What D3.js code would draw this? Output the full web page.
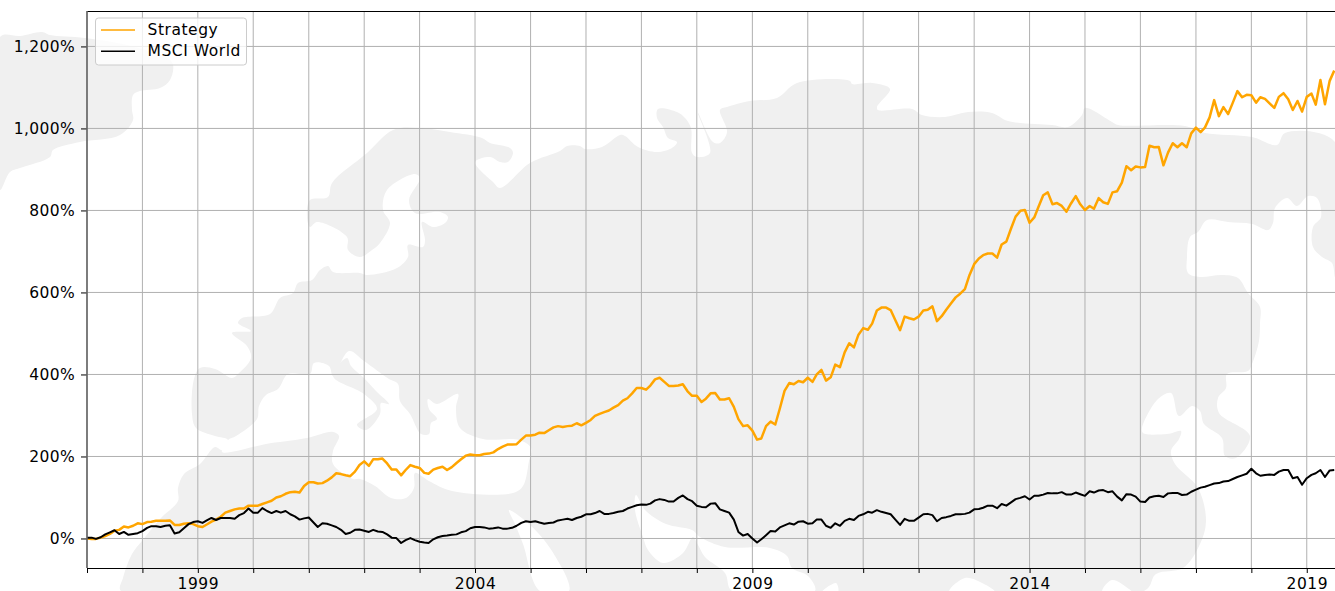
<!DOCTYPE html>
<html>
<head>
<meta charset="utf-8">
<script src="https://cdn.jsdelivr.net/npm/d3@7"></script>
<style>
    html, body { margin: 0; padding: 0; background: #fff; }
    svg { display: block; }
    text { font-family: "DejaVu Sans", sans-serif; fill: #000; }
</style>
</head>
<body>
<div id="chart"></div>
<script>
// Cumulative return in %, one value per month, starting January 1997
const strategy = [
    0, -1, -1, 2, 6, 11, 19, 21, 29, 27, 31, 37,
    35, 40, 41, 43, 43, 43, 44, 33, 33, 36, 37, 35,
    30, 28, 34, 41, 46, 53, 63, 67, 71, 73, 73, 80,
    80, 80, 84, 88, 92, 100, 103, 109, 113, 114, 112, 128,
    137, 137, 134, 135, 141, 149, 159, 157, 154, 152, 163, 179,
    188, 177, 193, 193, 195, 183, 168, 168, 154, 167, 179, 175,
    172, 160, 158, 168, 172, 175, 167, 174, 184, 193, 202, 205,
    203, 203, 206, 207, 210, 218, 224, 229, 229, 230, 241, 251,
    251, 253, 258, 257, 264, 271, 274, 272, 274, 275, 281, 276,
    282, 289, 299, 304, 308, 312, 319, 325, 336, 342, 354, 367,
    367, 363, 373, 388, 392, 382, 372, 372, 373, 376, 359, 348,
    348, 333, 341, 354, 355, 339, 339, 342, 321, 291, 274, 276,
    263, 241, 244, 274, 285, 278, 317, 360, 379, 376, 384, 381,
    392, 382, 400, 411, 385, 393, 424, 418, 454, 476, 466, 497,
    513, 509, 524, 556, 563, 563, 557, 532, 508, 541, 537, 534,
    541, 556, 558, 566, 530, 542, 558, 573, 588, 597, 608, 642,
    669, 683, 691, 695, 695, 685, 717, 724, 756, 785, 799, 801,
    770, 783, 809, 837, 844, 815, 818, 811, 797, 817, 835, 815,
    801, 811, 804, 830, 820, 816, 844, 847, 868, 908, 898, 907,
    905, 906, 958, 954, 955, 910, 941, 964, 954, 964, 954, 988,
    1002, 991, 1002, 1027, 1069, 1030, 1052, 1035, 1063, 1091, 1076, 1082,
    1081, 1063, 1076, 1072, 1061, 1050, 1077, 1086, 1071, 1045, 1067, 1041,
    1077, 1085, 1058, 1118, 1059, 1116, 1141
];

const msciWorld = [
    2, 2, -1, 3, 10, 15, 20, 11, 16, 9, 11, 13,
    18, 26, 30, 30, 28, 31, 32, 12, 15, 25, 35, 40,
    42, 38, 44, 50, 45, 50, 50, 50, 48, 57, 62, 73,
    63, 63, 74, 67, 62, 67, 63, 67, 59, 54, 46, 49,
    51, 39, 28, 37, 36, 32, 28, 21, 11, 14, 21, 22,
    19, 16, 21, 17, 16, 10, 2, 1, -11, -4, 1, -4,
    -8, -10, -11, -2, 3, 6, 7, 9, 10, 15, 18, 25,
    28, 28, 27, 24, 25, 27, 24, 24, 26, 31, 38, 42,
    40, 42, 39, 36, 38, 39, 44, 46, 48, 45, 50, 53,
    59, 59, 62, 67, 60, 60, 62, 65, 67, 73, 77, 81,
    83, 82, 85, 93, 96, 94, 90, 90, 99, 105, 96, 91,
    80, 77, 76, 85, 86, 71, 67, 63, 46, 16, 7, 11,
    0, -10, -2, 8, 18, 17, 27, 32, 37, 34, 41, 42,
    36, 37, 46, 46, 31, 26, 37, 31, 43, 48, 45, 55,
    59, 65, 63, 69, 65, 62, 59, 46, 33, 48, 43, 43,
    51, 59, 60, 57, 42, 50, 52, 55, 59, 59, 60, 63,
    71, 72, 75, 80, 80, 74, 84, 80, 88, 96, 99, 103,
    95, 104, 104, 107, 111, 110, 110, 113, 107, 107, 112, 108,
    104, 115, 112, 117, 118, 113, 115, 102, 93, 108, 107, 102,
    90, 89, 100, 103, 104, 101, 110, 111, 111, 106, 107, 114,
    119, 124, 126, 130, 134, 135, 139, 140, 145, 150, 154, 158,
    170, 159, 153, 155, 156, 155, 163, 167, 167, 147, 150, 131,
    147, 155, 159, 167, 150, 166, 167
];

const seriesNames = ["Strategy", "MSCI World"];
const seriesColors = ["#ffa500", "#000000"];
const yTicks = [0, 200, 400, 600, 800, 1000, 1200];
const gridYears = d3.range(1997, 2020);
const labelYears = [1999, 2004, 2009, 2014, 2019];

// Background world map watermark, traced in page pixels
const greenland = [[0,37],[20,36],[42,32],[50,35],[85,38],[135,47],[172,62],[170,80],[160,88],[140,91],[133,95],[132,110],[133,120],[120,135],[80,142],[53,150],[50,157],[20,168],[10,172],[0,190]];
const land = [
    [121,591],[123,578],[132,554],[142,541],[161,518],[178,501],[178,488],[184,474],[200,464],[215,447],[222,450],
    [228,440],[215,436],[196,428],[192,414],[194,379],[200,368],[215,369],[232,378],[238,374],[251,358],[247,346],[232,333],[251,331],[238,323],[242,318],[270,314],[280,298],[293,293],
    [298,283],[312,280],[320,270],[328,266],[333,272],[360,273],[367,275],[397,268],[408,257],[408,245],[423,247],[425,240],[422,222],[433,227],[445,223],[448,217],[440,212],[415,213],[409,200],[420,178],[415,174],[387,190],[383,210],[390,223],[380,243],[372,250],[360,257],[348,250],[347,237],[317,222],[310,227],[307,217],[310,200],[328,197],[332,183],[367,153],[393,130],[420,128],
    [450,132],[482,138],[490,143],[510,148],[513,153],[508,162],[500,162],[490,157],[475,162],[493,182],[500,188],[530,163],[560,151],[567,146],[580,146],[585,149],[602,147],[620,135],[625,136],[638,147],[657,152],[672,148],[677,142],[668,138],[663,127],[657,118],[658,109],[677,112],[685,118],[691,128],[692,153],[697,157],[710,153],[698,113],[713,142],[720,143],[727,132],[720,110],[727,107],[750,101],[777,98],[797,83],[850,81],[852,84],[872,83],[890,89],[877,107],[878,110],[912,109],[922,115],[945,117],[968,112],[992,113],[1008,121],[1052,125],[1068,127],[1082,115],[1085,108],[1112,122],[1118,125],[1185,126],[1205,133],[1252,137],[1277,145],[1285,133],[1335,142],
    [1335,277],[1332,263],[1322,257],[1313,247],[1313,227],[1321,217],[1317,198],[1308,196],[1297,206],[1287,198],[1275,208],[1273,223],[1268,230],[1252,224],[1228,222],[1207,220],[1198,232],[1190,237],[1187,257],[1188,273],[1200,277],[1222,275],[1238,278],[1248,293],[1260,307],[1260,323],[1259,341],[1252,364],[1248,371],[1227,374],[1226,388],[1218,398],[1219,413],[1250,436],[1236,458],[1225,456],[1222,438],[1204,424],[1200,411],[1192,406],[1179,416],[1171,393],[1158,399],[1142,428],[1143,433],[1167,434],[1181,431],[1179,439],[1171,451],[1175,464],[1198,488],[1206,521],[1200,544],[1183,568],[1156,574],[1144,591]
];
const seas = [
    // Mediterranean and Black Sea
    [[222,452],[228,440],[236,436],[257,419],[259,406],[266,395],[278,389],[288,374],[310,374],[314,363],[329,366],[333,376],[349,351],[364,361],[389,379],[398,384],[400,401],[410,414],[421,434],[429,434],[431,423],[437,419],[429,409],[428,399],[437,404],[458,394],[456,408],[460,428],[483,439],[519,440],[531,448],[529,461],[523,486],[513,493],[452,491],[429,481],[415,473],[414,488],[406,498],[391,498],[375,486],[360,479],[353,479],[333,464],[333,451],[339,436],[333,432],[307,438],[266,444],[253,447]],
    // Red Sea
    [[509,510],[529,524],[552,551],[569,591],[540,591],[523,544],[515,524]],
    // Gulf and Arabian Sea
    [[636,495],[645,510],[666,524],[692,530],[700,537],[725,547],[770,548],[787,556],[792,568],[808,576],[815,591],[732,591],[725,573],[705,557],[698,545],[693,537],[683,553],[663,563],[648,550],[643,537],[635,510]],
    [[822,592],[836,583],[838,592]],
    [[949,592],[965,578],[984,584],[995,592]],
    [[1102,592],[1112,580],[1129,589],[1132,592]]
];
const italy = [[333,376],[347,358],[351,366],[364,378],[376,391],[389,404],[381,403],[380,414],[366,430],[357,425],[377,409],[364,394]];

const width = 1335, height = 591;
const margin = { top: 11, right: 0, bottom: 23, left: 87 };

const dates = strategy.map((d, i) => d3.utcMonth.offset(new Date(Date.UTC(1997, 0, 1)), i));

const x = d3.scaleUtc()
    .domain([new Date(Date.UTC(1997, 0, 1)), new Date(Date.UTC(2019, 6, 6))])
    .range([margin.left, width - margin.right]);

const y = d3.scaleLinear()
    .domain([-72, 1286.4])
    .range([height - margin.bottom, margin.top]);

const svg = d3.select("#chart").append("svg")
    .attr("width", width)
    .attr("height", height);

svg.append("defs").append("clipPath")
    .attr("id", "plot-clip")
    .append("rect")
    .attr("x", margin.left)
    .attr("y", margin.top)
    .attr("width", width - margin.left - margin.right)
    .attr("height", height - margin.top - margin.bottom);

// Watermark
const blob = d3.line().curve(d3.curveCatmullRomClosed.alpha(0.5));
const map = svg.append("g");
map.selectAll("path.land")
    .data([greenland, land])
    .join("path")
    .attr("class", "land")
    .attr("d", blob)
    .attr("fill", "#f0f0f0");
map.selectAll("path.sea")
    .data(seas)
    .join("path")
    .attr("class", "sea")
    .attr("d", blob)
    .attr("fill", "#fff");
map.append("path")
    .attr("d", blob(italy))
    .attr("fill", "#f0f0f0");

// Grid
const grid = svg.append("g")
    .attr("stroke", "#b0b0b0")
    .attr("stroke-width", 1);
grid.selectAll("line.gx")
    .data(gridYears.map(yr => new Date(Date.UTC(yr, 0, 1))))
    .join("line")
    .attr("class", "gx")
    .attr("x1", d => x(d))
    .attr("x2", d => x(d))
    .attr("y1", margin.top)
    .attr("y2", height - margin.bottom);
grid.selectAll("line.gy")
    .data(yTicks)
    .join("line")
    .attr("class", "gy")
    .attr("x1", margin.left)
    .attr("x2", width)
    .attr("y1", d => y(d))
    .attr("y2", d => y(d));

// Series
const line = d3.line()
    .x((d, i) => x(dates[i]))
    .y(d => y(d));

svg.append("g")
    .attr("clip-path", "url(#plot-clip)")
    .selectAll("path")
    .data([strategy, msciWorld])
    .join("path")
    .attr("d", line)
    .attr("fill", "none")
    .attr("stroke", (d, i) => seriesColors[i])
    .attr("stroke-width", (d, i) => i === 0 ? 2.5 : 2)
    .attr("stroke-linejoin", "round");

// Axes
const xAxis = d3.axisBottom(x)
    .tickValues(gridYears.map(yr => new Date(Date.UTC(yr, 0, 1))))
    .tickSize(5)
    .tickPadding(6)
    .tickFormat(d => labelYears.includes(d.getUTCFullYear()) ? d.getUTCFullYear() : "");

const yAxis = d3.axisLeft(y)
    .tickValues(yTicks)
    .tickSize(6)
    .tickPadding(6)
    .tickFormat(d => d3.format(",")(d) + "%");

const gx = svg.append("g")
    .attr("transform", `translate(0,${height - margin.bottom})`)
    .call(xAxis);
const gy = svg.append("g")
    .attr("transform", `translate(${margin.left},0)`)
    .call(yAxis);

gx.selectAll("text").style("font-size", "15.5px").style("letter-spacing", "0.5px").attr("dy", "0.66em");
gy.selectAll("text").style("font-size", "15.5px").style("letter-spacing", "0.35px");
gx.select(".domain").attr("stroke", "#000").attr("stroke-width", 1);
gy.select(".domain").remove();

// Top and left spines
svg.append("line")
    .attr("x1", margin.left).attr("x2", width)
    .attr("y1", margin.top + 0.5).attr("y2", margin.top + 0.5)
    .attr("stroke", "#000");
svg.append("line")
    .attr("x1", margin.left).attr("x2", margin.left)
    .attr("y1", margin.top).attr("y2", height - margin.bottom)
    .attr("stroke", "#666")
    .attr("stroke-width", 1.6);

// Legend
const legend = svg.append("g");
legend.append("rect")
    .attr("x", 95.5)
    .attr("y", 18)
    .attr("width", 151)
    .attr("height", 47)
    .attr("rx", 3)
    .attr("fill", "#fff")
    .attr("fill-opacity", 0.8)
    .attr("stroke", "#ccc");

const legendRow = legend.selectAll("g")
    .data(seriesNames)
    .join("g")
    .attr("transform", (d, i) => `translate(101,${30 + i * 21.3})`);
legendRow.append("line")
    .attr("x1", 0)
    .attr("x2", 34)
    .attr("stroke", (d, i) => seriesColors[i])
    .attr("stroke-width", 1.5);
legendRow.append("text")
    .attr("x", 46.5)
    .attr("y", 4.5)
    .style("font-size", "15.5px")
    .style("letter-spacing", "0.55px")
    .text(d => d);
</script>
</body>
</html>
